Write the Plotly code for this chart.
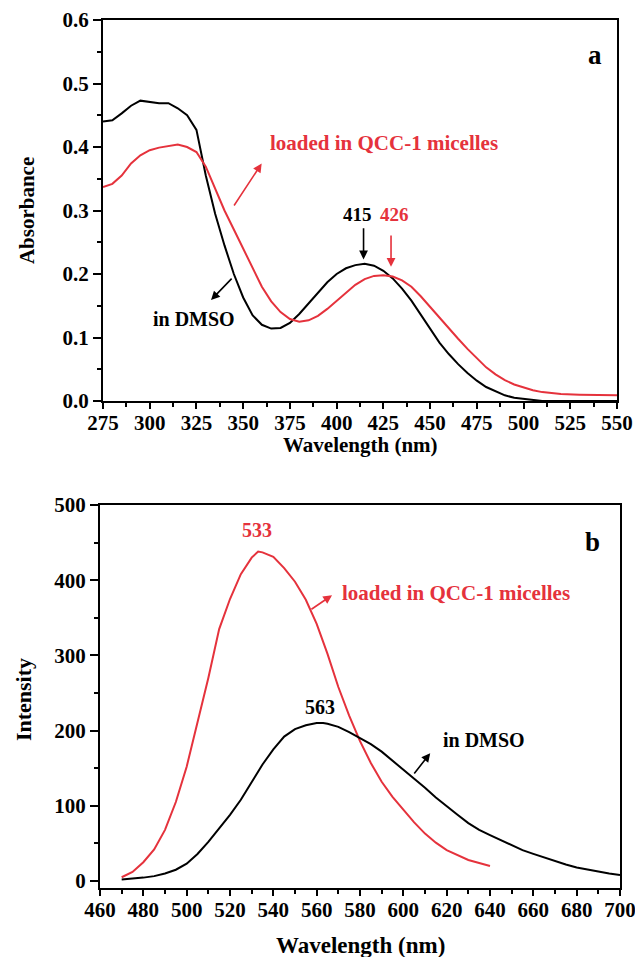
import plotly.graph_objects as go

# ---------------- Data: panel a (absorbance) ----------------
abs_wl = [275, 280, 285, 290, 295, 300, 305, 310, 315, 320, 325, 330, 335, 340, 345,
          350, 355, 360, 365, 370, 375, 380, 385, 390, 395, 400, 405, 410, 415, 420,
          425, 430, 435, 440, 445, 450, 455, 460, 465, 470, 475, 480, 485, 490, 495,
          500, 505, 510, 520, 530, 540, 550]
abs_dmso = [0.440, 0.442, 0.453, 0.465, 0.473, 0.471, 0.469, 0.469, 0.461, 0.450, 0.427,
            0.355, 0.295, 0.245, 0.200, 0.163, 0.135, 0.120, 0.114, 0.115, 0.123, 0.137,
            0.154, 0.171, 0.187, 0.200, 0.209, 0.214, 0.216, 0.213, 0.205, 0.193, 0.177,
            0.158, 0.136, 0.113, 0.092, 0.074, 0.058, 0.044, 0.032, 0.022, 0.015, 0.009,
            0.005, 0.003, 0.001, 0.0, 0.0, 0.0, 0.0, 0.0]
abs_micelle = [0.337, 0.342, 0.355, 0.374, 0.387, 0.395, 0.399, 0.402, 0.404, 0.400, 0.392,
               0.369, 0.333, 0.300, 0.270, 0.240, 0.210, 0.180, 0.157, 0.140, 0.129, 0.125,
               0.127, 0.134, 0.145, 0.158, 0.171, 0.183, 0.192, 0.197, 0.198, 0.196, 0.190,
               0.180, 0.165, 0.148, 0.132, 0.115, 0.098, 0.082, 0.067, 0.053, 0.042, 0.033,
               0.026, 0.021, 0.017, 0.014, 0.011, 0.010, 0.009, 0.009]

# ---------------- Data: panel b (fluorescence) ----------------
fl_wl_dmso = [470, 475, 480, 485, 490, 495, 500, 505, 510, 515, 520, 525, 530, 535, 540,
              545, 550, 555, 560, 563, 565, 570, 575, 580, 585, 590, 595, 600, 605, 610,
              615, 620, 625, 630, 635, 640, 645, 650, 655, 660, 665, 670, 675, 680, 685,
              690, 695, 700]
fl_dmso = [2, 3, 4.5, 6.5, 10, 15, 23, 36, 52, 70, 88, 108, 132, 155, 175, 192, 202, 207,
           210, 210, 209, 205, 198, 190, 182, 172, 160, 148, 137, 124, 111, 99, 88, 77, 68,
           61, 54, 47, 41, 36, 31, 26, 22, 18, 15, 12, 10, 8]
fl_wl_micelle = [470, 475, 480, 485, 490, 495, 500, 505, 510, 515, 520, 525, 530, 533, 535,
                 540, 545, 550, 555, 560, 565, 570, 575, 580, 585, 590, 595, 600, 605, 610,
                 615, 620, 625, 630, 635, 640]
fl_micelle = [5, 12, 25, 42, 68, 105, 152, 210, 270, 335, 375, 408, 430, 438, 437, 431, 416,
              398, 374, 342, 302, 258, 220, 186, 157, 132, 112, 95, 78, 63, 51, 41, 34, 28,
              24, 20]

RED = "#e5323c"
BLACK = "#000000"
FONT = "Liberation Serif"

fig = go.Figure()
fig.add_trace(go.Scatter(x=abs_wl, y=abs_dmso, mode="lines", line=dict(color=BLACK, width=2),
                         xaxis="x", yaxis="y", showlegend=False))
fig.add_trace(go.Scatter(x=abs_wl, y=abs_micelle, mode="lines", line=dict(color=RED, width=2),
                         xaxis="x", yaxis="y", showlegend=False))
fig.add_trace(go.Scatter(x=fl_wl_micelle, y=fl_micelle, mode="lines", line=dict(color=RED, width=2),
                         xaxis="x2", yaxis="y2", showlegend=False))
fig.add_trace(go.Scatter(x=fl_wl_dmso, y=fl_dmso, mode="lines", line=dict(color=BLACK, width=2),
                         xaxis="x2", yaxis="y2", showlegend=False))

tickfont = dict(family=FONT, size=21, color="black", weight="bold")
common = dict(showgrid=False, zeroline=False, showline=True, linecolor="black", linewidth=2,
              mirror=True, ticks="outside", tickcolor="black", tickwidth=2, tickfont=tickfont,
              automargin=False, ticklabeloverflow="allow")
minor_style = dict(ticks="outside", tickcolor="black", tickwidth=2, ticklen=4)

fig.update_layout(
    width=635, height=957,
    margin=dict(l=100, r=15, t=20, b=69, autoexpand=False),
    plot_bgcolor="white", paper_bgcolor="white",
    xaxis=dict(domain=[3/520, 517/520], range=[275, 550], tick0=275, dtick=25, ticklen=6,
               ticklabelstandoff=-4, minor=dict(dtick=12.5, **minor_style),
               anchor="y", **common),
    yaxis=dict(domain=[487/868, 1], range=[0, 0.6], dtick=0.1, tickformat=".1f", ticklen=8,
               minor=dict(dtick=0.05, **minor_style), anchor="x", **common),
    xaxis2=dict(domain=[0, 1], range=[460, 700], tick0=460, dtick=20, ticklen=6,
                ticklabelstandoff=-4, minor=dict(dtick=10, **minor_style),
                anchor="y2", **common),
    yaxis2=dict(domain=[0, 383/868], range=[-9.3, 500], tick0=0, dtick=100, ticklen=8,
                minor=dict(dtick=50, **minor_style), anchor="x2", **common),
)

def txt(text, x, y, xref, yref, size=20, color=BLACK, angle=0):
    fig.add_annotation(text=text, x=x, y=y, xref=xref, yref=yref, showarrow=False,
                       font=dict(family=FONT, size=size, color=color, weight="bold"),
                       xanchor="center", yanchor="middle", textangle=angle)

def arrow(x, y, ax, ay, xr, yr, color):
    fig.add_annotation(text="", x=x, y=y, ax=ax, ay=ay, xref=xr, yref=yr, axref=xr, ayref=yr,
                       showarrow=True, arrowhead=2, arrowsize=1.1, arrowwidth=1.6,
                       arrowcolor=color)

# axis titles
txt("Wavelength (nm)", 0.5, 0.5104, "paper", "paper", size=21)
txt("Wavelength (nm)", 0.5, -0.0657, "paper", "paper", size=23)
txt("Absorbance", -0.1404, 0.781, "paper", "paper", size=21, angle=-90)
txt("Intensity", -0.146, 0.2166, "paper", "paper", size=22, angle=-90)

# panel a annotations
txt("a", 538.2, 0.545, "x", "y", size=27)
txt("loaded in QCC-1 micelles", 425.3, 0.406, "x", "y", size=21, color=RED)
arrow(359.9, 0.374, 344.6, 0.3055, "x", "y", RED)
txt("in DMSO", 323.7, 0.129, "x", "y", size=20)
arrow(332.8, 0.159, 344.6, 0.195, "x", "y", BLACK)
txt("415", 411.4, 0.293, "x", "y", size=19)
txt("426", 431.2, 0.293, "x", "y", size=19, color=RED)
arrow(414.4, 0.223, 414.4, 0.2745, "x", "y", BLACK)
arrow(429.1, 0.2115, 429.1, 0.263, "x", "y", RED)

# panel b annotations
txt("b", 687.1, 451, "x2", "y2", size=27)
txt("533", 532.3, 466.8, "x2", "y2", size=20, color=RED)
txt("loaded in QCC-1 micelles", 624.5, 383, "x2", "y2", size=21, color=RED)
arrow(567.1, 380, 556.9, 360, "x2", "y2", RED)
txt("563", 561.4, 232, "x2", "y2", size=20)
txt("in DMSO", 637.2, 188, "x2", "y2", size=20)
arrow(612.4, 170, 604.5, 141, "x2", "y2", BLACK)

# remove the default 8px page margin so the figure sits at the window's corner
fig.write_html("out.html", config={"displayModeBar": False},
               post_script="document.body.style.margin='0';document.body.style.overflow='hidden';")
